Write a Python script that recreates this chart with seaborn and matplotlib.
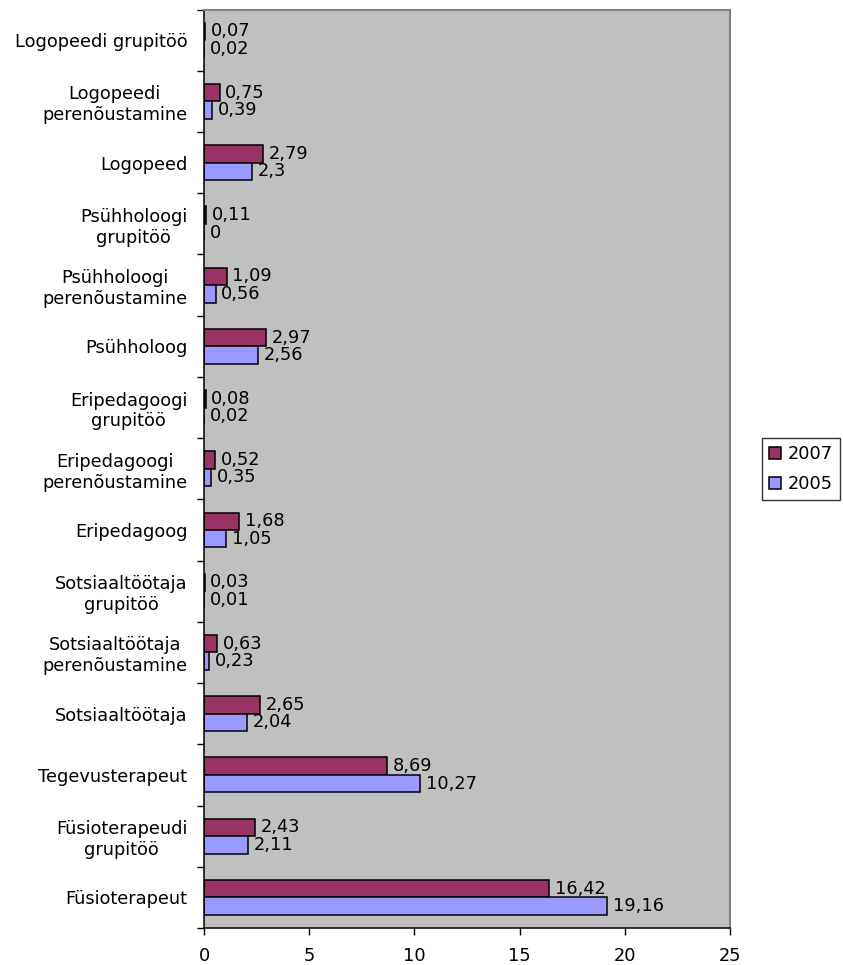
import matplotlib
matplotlib.use("Agg")
import matplotlib.pyplot as plt
import seaborn as sns
import pandas as pd
from matplotlib.patches import Patch

categories = [
    "Logopeedi grupitöö",
    "Logopeedi\nperenõustamine",
    "Logopeed",
    "Psühholoogi\ngrupitöö",
    "Psühholoogi\nperenõustamine",
    "Psühholoog",
    "Eripedagoogi\ngrupitöö",
    "Eripedagoogi\nperenõustamine",
    "Eripedagoog",
    "Sotsiaaltöötaja\ngrupitöö",
    "Sotsiaaltöötaja\nperenõustamine",
    "Sotsiaaltöötaja",
    "Tegevusterapeut",
    "Füsioterapeudi\ngrupitöö",
    "Füsioterapeut",
]
values_2007 = [0.07, 0.75, 2.79, 0.11, 1.09, 2.97, 0.08, 0.52, 1.68, 0.03, 0.63, 2.65, 8.69, 2.43, 16.42]
values_2005 = [0.02, 0.39, 2.3, 0, 0.56, 2.56, 0.02, 0.35, 1.05, 0.01, 0.23, 2.04, 10.27, 2.11, 19.16]
series = ["2007", "2005"]
x_ticks = [0, 5, 10, 15, 20, 25]

colors = {"2007": "#993366", "2005": "#9999FF"}

df = pd.DataFrame({
    "cat": categories * 2,
    "val": values_2007 + values_2005,
    "year": ["2007"] * len(categories) + ["2005"] * len(categories),
})

plt.rcParams["font.family"] = ["DejaVu Sans"]
fs = 12.8

fig = plt.figure(figsize=(8.43, 9.65), dpi=100)
ax = fig.add_axes([204 / 843, 1 - 928 / 965, (730 - 204) / 843, (928 - 9.5) / 965])

sns.barplot(data=df, y="cat", x="val", hue="year", hue_order=series,
            order=categories, orient="h", palette=colors, width=0.57,
            edgecolor="black", linewidth=1.1, ax=ax, legend=False,
            saturation=1)

ax.set_facecolor("#C0C0C0")
ax.set_xlim(0, 25)
ax.set_ylim(len(categories) - 0.5, -0.5)
ax.set_xticks(x_ticks)
ax.set_xticklabels([str(t) for t in x_ticks], fontsize=fs)
ax.set_yticks([i for i in range(len(categories))])
ax.set_yticklabels(categories, fontsize=fs, multialignment="center")
ax.tick_params(axis="y", length=0, pad=12)
# category boundary ticks
ax.set_yticks([i - 0.5 for i in range(len(categories) + 1)], minor=True)
ax.tick_params(axis="y", which="minor", length=5, width=1, color="black")
ax.tick_params(axis="x", length=5, width=1, pad=9, color="black")
ax.set_xlabel("")
ax.set_ylabel("")
ax.grid(False)

for side in ["left", "bottom"]:
    ax.spines[side].set_color("black")
    ax.spines[side].set_linewidth(1.1)
for side in ["top", "right"]:
    ax.spines[side].set_color("#808080")
    ax.spines[side].set_linewidth(1.5)

def fmt(v):
    return f"{v:g}".replace(".", ",")

for cont, vals in zip(ax.containers, [values_2007, values_2005]):
    ax.bar_label(cont, labels=[fmt(v) for v in vals], padding=4, fontsize=fs)

handles = [Patch(facecolor=colors[s], edgecolor="black", linewidth=1.1, label=s) for s in series]
leg = fig.legend(handles=handles, loc="center left",
                 bbox_to_anchor=(762 / 843, 1 - 469 / 965),
                 fontsize=fs, frameon=True, fancybox=False,
                 handlelength=0.66, handleheight=0.66, handletextpad=0.4,
                 borderpad=0.4, labelspacing=0.7, borderaxespad=0)
leg.get_frame().set_edgecolor("black")
leg.get_frame().set_linewidth(1.0)

fig.savefig("out.png", dpi=100)
